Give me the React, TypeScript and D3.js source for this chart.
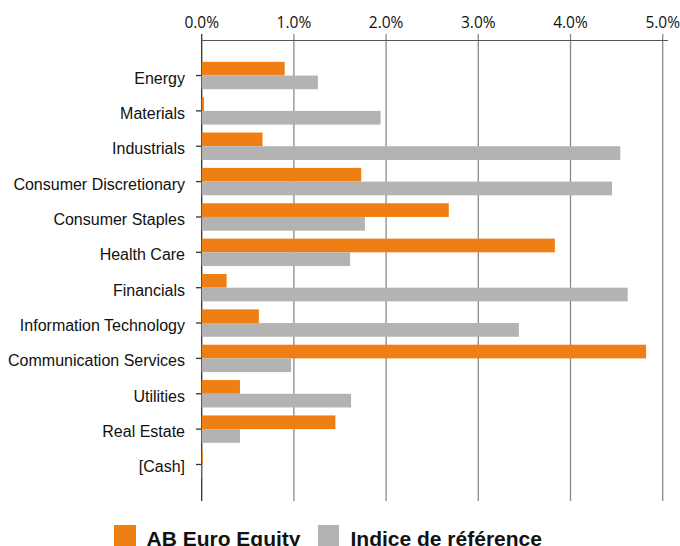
import React from "react";
import * as d3 from "d3";

const categories = [
  "Energy",
  "Materials",
  "Industrials",
  "Consumer Discretionary",
  "Consumer Staples",
  "Health Care",
  "Financials",
  "Information Technology",
  "Communication Services",
  "Utilities",
  "Real Estate",
  "[Cash]",
];
const fundValues = [0.9, 0.025, 0.66, 1.73, 2.68, 3.83, 0.27, 0.62, 4.82, 0.415, 1.45, 0.012];
const indexValues = [1.26, 1.94, 4.54, 4.45, 1.77, 1.61, 4.62, 3.44, 0.97, 1.62, 0.415, 0.005];
const xTicks = [0, 1, 2, 3, 4, 5];
const seriesNames = ["AB Euro Equity", "Indice de référence"];
const colors = ["#EF7F14", "#B3B3B3"];

export default function App() {
  const W = 680;
  const H = 546;
  const x = d3.scaleLinear().domain([0, 5]).range([201.7, 662.7]);
  const y = d3
    .scaleBand<string>()
    .domain(categories)
    .range([40, 500])
    .paddingInner(0.225)
    .paddingOuter(0.617);
  const bw = y.bandwidth() / 2;
  const font = "Arial, 'Liberation Sans', sans-serif";
  return (
    <svg
      width={W}
      height={H}
      style={{ position: "absolute", left: 0, top: 0, background: "#fff" }}
      fontFamily={font}
    >
      {/* gridlines */}
      {xTicks.map((t) => (
        <line
          key={"g" + t}
          x1={x(t)}
          x2={x(t)}
          y1={34}
          y2={501}
          stroke={t === 0 ? "#333" : "#888"}
          strokeWidth={1.3}
        />
      ))}
      {/* top axis */}
      <line x1={x(0)} x2={668} y1={40.5} y2={40.5} stroke="#555" strokeWidth={1.2} />
      {xTicks.map((t) => (
        <text
          key={"t" + t}
          x={x(t)}
          y={27.5}
          textAnchor="middle"
          fontSize={15.5}
          fontFamily="'Open Sans', sans-serif"
          fill="#111"
        >
          {d3.format(".1f")(t) + "%"}
        </text>
      ))}
      {/* bars */}
      {categories.map((c, i) => (
        <g key={c}>
          <rect
            x={x(0)}
            y={y(c)!}
            width={x(fundValues[i]) - x(0)}
            height={bw}
            fill={colors[0]}
          />
          <rect
            x={x(0)}
            y={y(c)! + bw}
            width={x(indexValues[i]) - x(0)}
            height={bw}
            fill={colors[1]}
          />
          <line
            x1={196}
            x2={201}
            y1={y(c)! + bw}
            y2={y(c)! + bw}
            stroke="#333"
            strokeWidth={1.3}
          />
          <text
            x={185}
            y={y(c)! + bw}
            dy="0.5em"
            textAnchor="end"
            fontSize={16}
            fill="#111"
          >
            {c}
          </text>
        </g>
      ))}
      {/* legend */}
      <rect x={114} y={525} width={22} height={22} fill={colors[0]} />
      <text x={146.5} y={546} fontSize={21} fontWeight="bold" fill="#111">
        {seriesNames[0]}
      </text>
      <rect x={318} y={525} width={21} height={22} fill={colors[1]} />
      <text x={350.5} y={546} fontSize={21} fontWeight="bold" fill="#111">
        {seriesNames[1]}
      </text>
    </svg>
  );
}
